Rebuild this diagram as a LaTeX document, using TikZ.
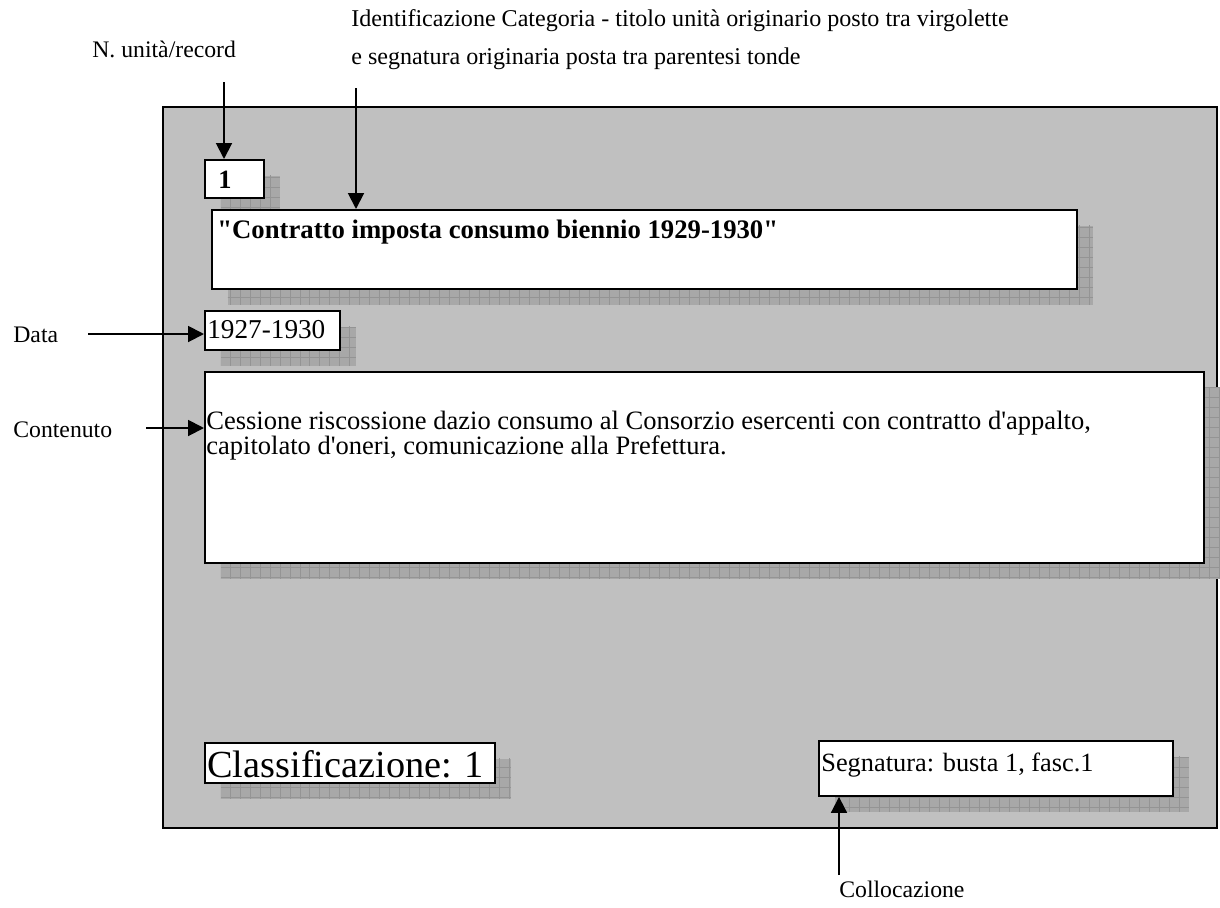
\documentclass[tikz,border=0pt]{standalone}
\usepackage{fontspec}
\setmainfont{Liberation Serif}[Ligatures=TeXOff]
\usetikzlibrary{arrows.meta,shadows,patterns.meta}

\definecolor{framegray}{RGB}{192,192,192}
\definecolor{shadowfill}{RGB}{168,168,168}
\definecolor{shadowline}{RGB}{148,148,148}

\tikzset{
  box/.style={draw, line width=1.1pt, fill=white, inner sep=0pt, anchor=north west,
    general shadow={shadow xshift=0.32cm, shadow yshift=-0.32cm, fill=shadowfill},
    general shadow={shadow xshift=0.32cm, shadow yshift=-0.32cm,
      pattern={Hatch[angle=0,distance=0.2cm,line width=0.5pt]}, pattern color=shadowline}},
  lbl/.style={anchor=base west, inner sep=0pt, align=left, font=\fontsize{13.5}{16}\selectfont},
  txt/.style={anchor=base west, inner sep=0pt, align=left},
  arr/.style={line width=1.1pt, -{Triangle[length=9pt,width=9pt]}},
}

\begin{document}
\begin{tikzpicture}[x=0.02cm, y=-0.02cm]
  \useasboundingbox (0,0) rectangle (1220,907);
  % scheda
  \draw[fill=framegray, line width=1.1pt] (163,107) rectangle (1217,828);

  % caselle
  \node[box, minimum width=1.18cm, minimum height=0.76cm] (numbox) at (204,159) {};
  \node[box, minimum width=17.30cm, minimum height=1.58cm] (titlebox) at (211,209) {};
  \node[box, minimum width=2.70cm, minimum height=0.78cm] (datebox) at (204,310) {};
  \node[box, minimum width=19.98cm, minimum height=3.82cm] (contbox) at (204,371) {};
  \node[box, minimum width=5.80cm, minimum height=0.80cm] (classbox) at (204,742) {};
  \node[box, minimum width=7.08cm, minimum height=1.10cm] (segnbox) at (818,740) {};

  % testi delle caselle (base = ultima riga)
  \node[txt, font=\fontsize{15}{18}\selectfont\bfseries] (numtext) at (218,188) {1};
  \node[txt, font=\fontsize{15.2}{18}\selectfont\bfseries] (titletext) at (217,238)
    {"Contratto imposta consumo biennio 1929-1930"};
  \node[txt, font=\fontsize{15.5}{18}\selectfont] (datetext) at (207,338) {1927-1930};
  \node[txt, font=\fontsize{15.1}{14.2}\selectfont] (conttext) at (206,454)
    {Cessione riscossione dazio consumo al Consorzio esercenti con contratto d'appalto,\\
     capitolato d'oneri, comunicazione alla Prefettura.};
  \node[txt, font=\fontsize{21.8}{26}\selectfont] (classtext) at (207,777) {Classificazione: 1};
  \node[txt, font=\fontsize{15}{18}\selectfont] (segntext) at (821,771) {Segnatura: busta 1, fasc.1};

  % didascalie
  \node[lbl] (lblnum) at (92,57) {N. unità/record};
  \node[lbl, font=\fontsize{13.7}{21.5}\selectfont] (lbltitle) at (351,64)
    {Identificazione Categoria - titolo unità originario posto tra virgolette\\
     e segnatura originaria posta tra parentesi tonde};
  \node[lbl] (lbldata) at (13,342) {Data};
  \node[lbl] (lblcont) at (13,437) {Contenuto};
  \node[lbl] (lblcoll) at (839,897) {Collocazione};

  % frecce
  \coordinate (numtop) at (224,82);
  \coordinate (titletop) at (356,88);
  \coordinate (datafrom) at (88,334);
  \coordinate (contfrom) at (146,428);
  \coordinate (collfrom) at (839,875);
  \draw[arr] (numtop) -- (numtop |- numbox.north);
  \draw[arr] (titletop) -- (titletop |- titlebox.north);
  \draw[arr] (datafrom) -- (datafrom -| datebox.west);
  \draw[arr] (contfrom) -- (contfrom -| contbox.west);
  \draw[arr] (collfrom) -- (collfrom |- segnbox.south);
\end{tikzpicture}
\end{document}
